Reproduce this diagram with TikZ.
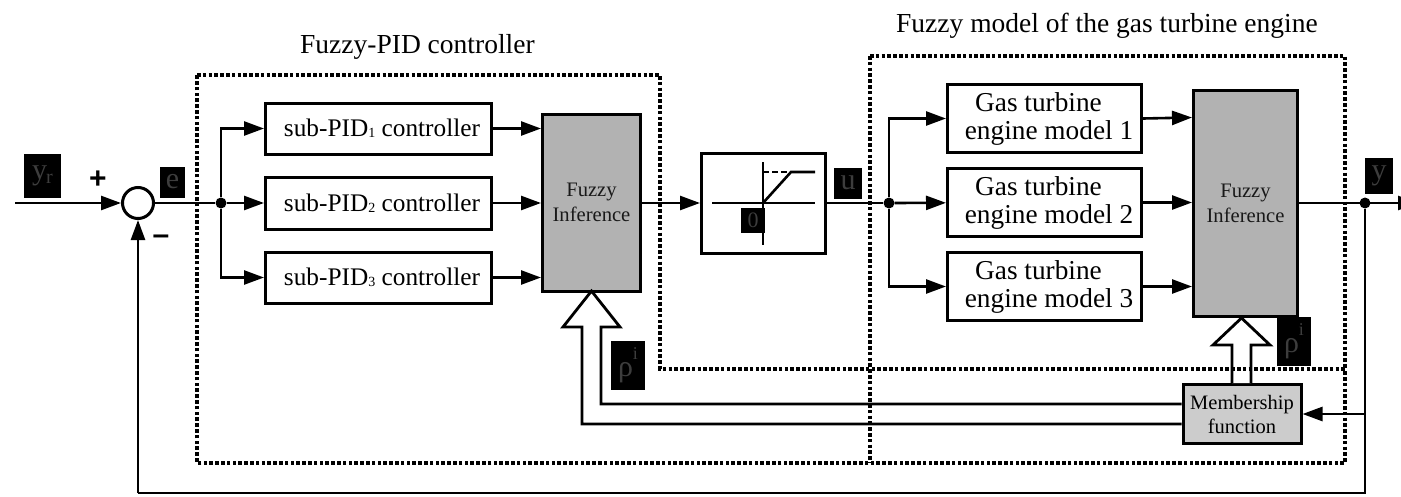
\documentclass[tikz,border=0pt]{standalone}
\usepackage{fontspec}
\setmainfont{Liberation Serif}
\newfontfamily\signfont{Liberation Sans}[BoldFont={Liberation Sans Bold}]
\usetikzlibrary{arrows.meta,calc}
\definecolor{tagtext}{gray}{0.24}
\tikzset{
  x=1pt,y=-1pt,
  wire/.style={line width=2.6pt,draw=black},
  arr/.style={wire,-{Triangle[length=20pt,width=14pt]}},
  blockbox/.style={draw=black,line width=3pt,fill=white,inner sep=0pt,align=center,font=\fontsize{25.3}{30}\selectfont,text=black},
  fuzzybox/.style={blockbox,fill=black!30,font=\fontsize{20.6}{25}\selectfont,text=black!90},
  memberbox/.style={blockbox,fill=black!20,font=\fontsize{20.5}{24}\selectfont},
  gasbox/.style={blockbox,font=\fontsize{27.3}{28}\selectfont},
  tagbox/.style={fill=black,inner sep=0pt,text=tagtext,font=\fontsize{30}{30}\selectfont},
  dot/.style={circle,fill=black,inner sep=0pt,minimum size=11pt},
  limit/.style={line width=3.1pt,draw=black,dash pattern=on 3.6pt off 2.2pt},
  hollow/.style={draw=black,line width=2.8pt,fill=white,line join=miter},
  title/.style={font=\fontsize{27.5}{30}\selectfont,inner sep=0pt,anchor=base west},
  signlabel/.style={font=\signfont\bfseries\fontsize{30}{30}\selectfont,inner sep=0pt}
}
\newcommand{\tagnode}[6]{\node[tagbox,minimum width=#5pt,minimum height=#6pt] (#1) at (#2,#3) {#4};}
\newcommand{\subsz}[1]{{\fontsize{14}{14}\selectfont\raisebox{-1pt}{#1}}}
\newcommand{\rhotag}{\raisebox{-3pt}{ρ}{\fontsize{18}{18}\selectfont\raisebox{14pt}{i}}}
\begin{document}
\begin{tikzpicture}
\useasboundingbox (0,0) rectangle (1401,496);
\clip (0,0) rectangle (1401,496);
% titles
\node[title] (t1) at (300,53) {Fuzzy-PID controller};
\node[title] (t2) at (896,32) {Fuzzy model of the gas turbine engine};
% coordinates
\coordinate (in) at (15,203);
\coordinate (out) at (1418,203);
\coordinate (ylow) at (1365,493);
\coordinate (slow) at (138,493);
\coordinate (ymid) at (1365,414);
% blocks
\node[circle,draw=black,line width=3pt,fill=white,minimum size=31pt,inner sep=0pt] (sum) at (138,203) {};
\node[blockbox,minimum width=226pt,minimum height=51pt] (p1) at (378.5,128.5) {\hspace*{7pt}sub-PID\subsz{1} controller};
\node[blockbox,minimum width=226pt,minimum height=52pt] (p2) at (378.5,203) {\hspace*{7pt}sub-PID\subsz{2} controller};
\node[blockbox,minimum width=226pt,minimum height=51pt] (p3) at (378.5,277.5) {\hspace*{7pt}sub-PID\subsz{3} controller};
\node[fuzzybox,minimum width=98pt,minimum height=177pt] (f1) at (591.5,202.5) {Fuzzy\\Inference};
\node[blockbox,minimum width=124pt,minimum height=100pt] (sat) at (763.5,203) {};
\node[gasbox,minimum width=194pt,minimum height=68pt] (g1) at (1044.5,118.5) {Gas turbine\hspace*{12pt}\\\hspace*{9pt}engine model 1};
\node[gasbox,minimum width=194pt,minimum height=68pt] (g2) at (1044.5,202.5) {Gas turbine\hspace*{12pt}\\\hspace*{9pt}engine model 2};
\node[gasbox,minimum width=194pt,minimum height=68pt] (g3) at (1044.5,286.5) {Gas turbine\hspace*{12pt}\\\hspace*{9pt}engine model 3};
\node[fuzzybox,minimum width=104pt,minimum height=226pt] (f2) at (1245.5,203.5) {Fuzzy\\Inference};
\node[memberbox,minimum width=118pt,minimum height=59pt] (mem) at (1242,414) {Membership\\function};
% junctions
\node[dot] (j1) at (221,203) {};
\node[dot] (j2) at (889,203) {};
\node[dot] (j3) at (1365,203) {};
% wires
\draw[arr] (in) -- (sum);
\draw[wire] (sum) -- (j1);
\draw[arr] (j1) -- (p2);
\draw[arr] (j1) |- (p1);
\draw[arr] (j1) |- (p3);
\draw[arr] (p1.east) -- (f1.west |- p1.east);
\draw[arr] (p2.east) -- (f1.west |- p2.east);
\draw[arr] (p3.east) -- (f1.west |- p3.east);
\draw[arr] (f1.east |- sat.west) -- (sat.west);
\draw[wire] (sat.east) -- (j2);
\draw[arr] (j2) -- (g2);
\draw[arr] (j2) |- (g1);
\draw[arr] (j2) |- (g3);
\draw[arr] (g1.east) -- ($(f2.west |- g1.east)+(0,-1)$);
\draw[arr] (g2.east) -- (f2.west |- g2.east);
\draw[arr] (g3.east) -- (f2.west |- g3.east);
\draw[arr] (f2.east |- j3) -- (out);
\draw[wire] (j3) -- (ylow) -- (slow);
\draw[arr] (slow) -- (sum);
\draw[arr] (ymid) -- (mem.east |- ymid);
% hollow arrows
\draw[hollow] (mem.north -| 1232,0) -- (1232,345) -- (1213,345) -- (f2.south -| 1241.5,0) -- (1270,345) -- (1251,345) -- (mem.north -| 1251,0);
\draw[hollow] (mem.west |- 0,424) -- (582,424) -- (582,327) -- (563,327) -- (591.5,291) -- (620,327) -- (601,327) -- (601,404) -- (mem.west |- 0,404);
% limits
\draw[limit] (197,75) -- (660,75) -- (660,369) -- (1345,369) -- (1345,463) -- (197,463) -- cycle;
\draw[limit] (870,56) -- (1345,56) -- (1345,369);
\draw[limit] (870,56) -- (870,463);
% saturation glyph
\coordinate (sc) at (763,203);
\draw[wire] (712,203) -- (815,203);
\draw[wire] (763,162) -- (763,245);
\draw[wire] (sc) -- (791,172) -- (815,172);
\draw[line width=2.8pt,dash pattern=on 6pt off 3pt] (763,172) -- (795,172);
% tags
\tagnode{ty}{42.5}{176}{\raisebox{2pt}{y}\hspace{-1pt}{\fontsize{20}{20}\selectfont\raisebox{-2pt}{r}}}{37}{44}
\tagnode{te}{172.5}{182.5}{\raisebox{2pt}{e}}{25}{31}
\tagnode{tz}{753}{220.5}{\fontsize{22}{22}\selectfont 0}{24}{25}
\tagnode{tu}{848}{183.5}{\raisebox{2pt}{u}}{28}{31}
\tagnode{tyy}{1379}{176}{\raisebox{1pt}{y}}{28}{36}
\tagnode{tr1}{628}{365.5}{\rhotag}{34}{49}
\tagnode{tr2}{1294}{341.5}{\rhotag}{34}{49}
% signs
\node[signlabel] (plus) at (98,180) {+};
\node[signlabel] (minus) at (161,240) {–};
\end{tikzpicture}
\end{document}
